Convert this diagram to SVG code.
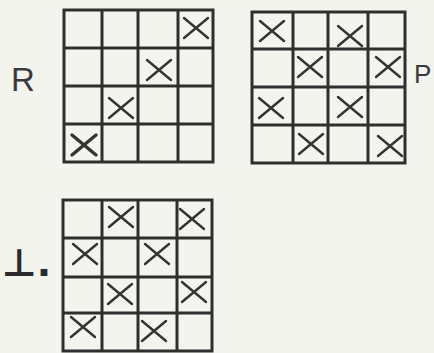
<svg xmlns="http://www.w3.org/2000/svg" xmlns:xlink="http://www.w3.org/1999/xlink" width="434" height="353" viewBox="0 0 434 353">
<style>
.g{fill:none;stroke:#2e2e2e;stroke-width:3;stroke-linecap:square}
.x{fill:none;stroke:#333;stroke-width:2.4;stroke-linecap:round}
.lbl{font-family:"Liberation Sans",sans-serif;fill:#3a3a3a;font-weight:300}
</style>
<defs>
<path id="X" d="M-12,-10 Q0,0 12,10 M-12,10 Q0,0 12,-10"/>
</defs>
<rect width="434" height="353" fill="#f4f4ef"/>
<g id="gridR">
<path class="g" d="M64,10H213V162H64Z M102,10V162 M138,10V162 M178,10V162 M64,48H213 M64,86H213 M64,124H213"/>
<g class="x">
<use xlink:href="#X" x="196" y="28"/>
<use xlink:href="#X" x="159" y="70"/>
<use xlink:href="#X" x="121" y="108"/>
<use xlink:href="#X" x="84" y="145" style="stroke-width:3.4"/>
</g>
<text class="lbl" x="11" y="91" font-size="33">R</text>
</g>
<g id="gridP">
<path class="g" d="M252,12H405V163H252Z M293,12V163 M328,12V163 M368,12V163 M252,49H405 M252,87H405 M252,125H405"/>
<g class="x">
<use xlink:href="#X" x="272" y="31"/>
<use xlink:href="#X" x="350" y="36"/>
<use xlink:href="#X" x="310" y="67"/>
<use xlink:href="#X" x="388" y="67"/>
<use xlink:href="#X" x="271" y="108"/>
<use xlink:href="#X" x="350" y="107"/>
<use xlink:href="#X" x="311" y="144"/>
<use xlink:href="#X" x="390" y="146"/>
</g>
<text class="lbl" x="414" y="83" font-size="26">P</text>
</g>
<g id="gridL">
<path class="g" d="M63,200H212V351H63Z M102,200V351 M138,200V351 M177,200V351 M63,238H212 M63,277H212 M63,313H212"/>
<g class="x">
<use xlink:href="#X" x="121" y="217"/>
<use xlink:href="#X" x="192" y="219"/>
<use xlink:href="#X" x="85" y="254"/>
<use xlink:href="#X" x="157" y="254"/>
<use xlink:href="#X" x="120" y="294"/>
<use xlink:href="#X" x="194" y="292"/>
<use xlink:href="#X" x="83" y="327"/>
<use xlink:href="#X" x="154" y="331"/>
</g>
<text x="2" y="276" font-size="38" font-weight="bold" fill="#2a2a2a" style="font-family:'DejaVu Sans',sans-serif">⊥.</text>
</g>
</svg>
